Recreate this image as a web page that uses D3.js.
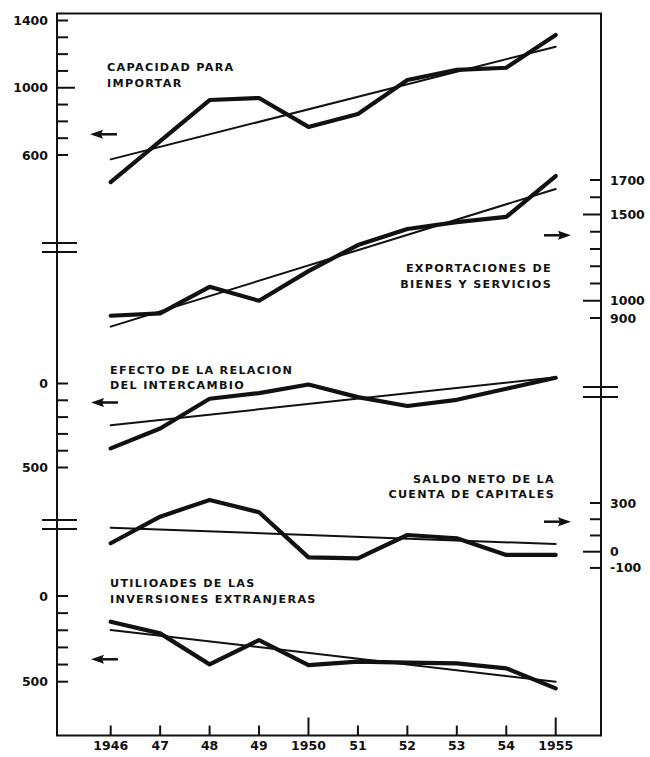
<!DOCTYPE html>
<html>
<head>
<meta charset="utf-8">
<script src="https://cdn.jsdelivr.net/npm/d3@7"></script>
<style>
  html, body { margin: 0; padding: 0; background: #fff; overflow: hidden; }
  svg { display: block; }
  text { font-family: "DejaVu Sans", sans-serif; font-weight: bold; fill: #111; }
</style>
</head>
<body>
<svg id="chart" width="650" height="757"></svg>
<script>
// ---------------- DATA ----------------
const years = [1946, 1947, 1948, 1949, 1950, 1951, 1952, 1953, 1954, 1955];
const yearLabels = ["1946", "47", "48", "49", "1950", "51", "52", "53", "54", "1955"];
const trendYears = [1946, 1955];

// Capacidad para importar (left, upper scale)
const capacidad      = [439, 683, 927, 939, 767, 844, 1046, 1106, 1119, 1314];
const capacidadTrend = [574, 1244];
// Exportaciones de bienes y servicios (right, upper scale)
const exportaciones      = [913, 927, 1081, 1000, 1172, 1323, 1416, 1456, 1486, 1723];
const exportacionesTrend = [850, 1648];
// Efecto de la relacion del intercambio (left, middle scale)
const efecto      = [-386, -268, -91, -57, -6, -81, -134, -97, -31, 34];
const efectoTrend = [-249, 37];
// Saldo neto de la cuenta de capitales (right, lower scale)
const saldo      = [52, 216, 319, 243, -35, -41, 103, 83, -20, -20];
const saldoTrend = [148, 47];
// Utilidades de las inversiones extranjeras (left, lower scale)
const utilidades      = [-150, -218, -399, -257, -403, -383, -389, -393, -422, -539];
const utilidadesTrend = [-198, -500];

// Tick values and labels
const capTicks   = [600, 700, 800, 900, 1000, 1100, 1200, 1300, 1400];
const capMajor   = [1000];
const capLabels  = [600, 1000, 1400];
const expTicks   = [900, 1000, 1100, 1200, 1300, 1400, 1500, 1600, 1700];
const expMajor   = [1000, 1500];
const expLabels  = [900, 1000, 1500, 1700];
const efeTicks   = [0, -100, -200, -300, -400, -500];
const efeMajor   = [];
const efeLabels  = [0, -500];
const salTicks   = [-100, 0, 100, 200, 300];
const salMajor   = [0];
const salLabels  = [-100, 0, 300];
const utiTicks   = [0, -100, -200, -300, -400, -500];
const utiMajor   = [];
const utiLabels  = [0, -500];
const yearMajor  = [1950, 1955];

const seriesLabels = {
  cap: ["CAPACIDAD PARA", "IMPORTAR"],
  exp: ["EXPORTACIONES DE", "BIENES Y SERVICIOS"],
  efe: ["EFECTO DE LA RELACION", "DEL INTERCAMBIO"],
  sal: ["SALDO NETO DE LA", "CUENTA DE CAPITALES"],
  uti: ["UTILIOADES DE LAS", "INVERSIONES EXTRANJERAS"]
};

// ---------------- LAYOUT ----------------
const INK = "#111";
const L = 57, R = 601, T = 13.5, B = 735.5;
const svg = d3.select("#chart");

const x = d3.scaleLinear().domain([1946, 1955]).range([110.7, 555.7]);
const yCap = d3.scaleLinear().domain([600, 1400]).range([155, 20.5]);
const yExp = d3.scaleLinear().domain([900, 1700]).range([318, 180]);
const yEfe = d3.scaleLinear().domain([0, -500]).range([383.5, 467.5]);
const ySal = d3.scaleLinear().domain([0, 300]).range([551.7, 503]);
const yUti = d3.scaleLinear().domain([0, -500]).range([596, 681.7]);

// Frame
const frame = svg.append("g").attr("stroke", INK).attr("stroke-width", 2).attr("fill", "none");
frame.append("line").attr("x1", L).attr("x2", L).attr("y1", T).attr("y2", B);
frame.append("line").attr("x1", R).attr("x2", R).attr("y1", T).attr("y2", B);
frame.append("line").attr("x1", L - 1).attr("x2", R + 1).attr("y1", T).attr("y2", T);
frame.append("line").attr("x1", L - 1).attr("x2", R + 1).attr("y1", B).attr("y2", B);

// Break marks
const breaks = [
  { x1: 42, x2: 77, y: 243 }, { x1: 42, x2: 77, y: 252 },
  { x1: 42, x2: 77, y: 520 }, { x1: 42, x2: 77, y: 529 },
  { x1: 583, x2: 618, y: 387 }, { x1: 583, x2: 618, y: 397 }
];
frame.selectAll("line.brk").data(breaks).join("line").attr("class", "brk")
  .attr("x1", d => d.x1).attr("x2", d => d.x2).attr("y1", d => d.y).attr("y2", d => d.y)
  .attr("stroke-width", 2);

// Vertical axis ticks & labels
function vAxis(scale, ticks, major, labels, side, fmt) {
  const g = svg.append("g");
  const x0 = side === "left" ? L : R;
  const dir = side === "left" ? 1 : -1;
  g.selectAll("line").data(ticks).join("line")
    .attr("x1", x0)
    .attr("x2", d => x0 + dir * (major.includes(d) ? 18 : 11))
    .attr("y1", d => scale(d)).attr("y2", d => scale(d))
    .attr("stroke", INK).attr("stroke-width", 2);
  g.selectAll("text").data(labels).join("text")
    .attr("x", side === "left" ? 48 : 610)
    .attr("y", d => scale(d))
    .attr("dy", "0.36em")
    .attr("text-anchor", side === "left" ? "end" : "start")
    .attr("font-size", 12.5)
    .text(fmt);
}
vAxis(yCap, capTicks, capMajor, capLabels, "left", d => String(d));
vAxis(yExp, expTicks, expMajor, expLabels, "right", d => String(d));
vAxis(yEfe, efeTicks, efeMajor, efeLabels, "left", d => String(Math.abs(d)));
vAxis(ySal, salTicks, salMajor, salLabels, "right", d => (d < 0 ? "-" : "") + Math.abs(d));
vAxis(yUti, utiTicks, utiMajor, utiLabels, "left", d => String(Math.abs(d)));

// Year axis
const xg = svg.append("g");
xg.selectAll("line").data(years).join("line")
  .attr("x1", d => x(d)).attr("x2", d => x(d))
  .attr("y1", B).attr("y2", d => B - (yearMajor.includes(d) ? 18 : 10))
  .attr("stroke", INK).attr("stroke-width", 2);
xg.selectAll("text").data(years).join("text")
  .attr("x", d => x(d)).attr("y", 750)
  .attr("text-anchor", "middle").attr("font-size", 12.5)
  .text((d, i) => yearLabels[i]);

// Series
const series = [
  { vals: capacidad,     trend: capacidadTrend,     y: yCap },
  { vals: exportaciones, trend: exportacionesTrend, y: yExp },
  { vals: efecto,        trend: efectoTrend,        y: yEfe },
  { vals: saldo,         trend: saldoTrend,         y: ySal },
  { vals: utilidades,    trend: utilidadesTrend,    y: yUti }
];
const lg = svg.append("g").attr("fill", "none").attr("stroke", INK)
  .attr("stroke-linejoin", "round").attr("stroke-linecap", "round");
series.forEach(s => {
  const lineGen = d3.line().x((d, i) => x(years[i])).y(d => s.y(d));
  const trendGen = d3.line().x((d, i) => x(trendYears[i])).y(d => s.y(d));
  lg.append("path").attr("d", trendGen(s.trend)).attr("stroke-width", 2);
  lg.append("path").attr("d", lineGen(s.vals)).attr("stroke-width", 4.2);
});

// Series labels
const labelSpec = [
  { key: "cap", x: 107, y: 71, anchor: "start" },
  { key: "exp", x: 552, y: 272, anchor: "end" },
  { key: "efe", x: 110, y: 373.5, anchor: "start" },
  { key: "sal", x: 555, y: 482.5, anchor: "end" },
  { key: "uti", x: 110, y: 587, anchor: "start" }
];
labelSpec.forEach(l => {
  const t = svg.append("text").attr("font-size", 11.2).attr("letter-spacing", 1.3)
    .attr("text-anchor", l.anchor);
  seriesLabels[l.key].forEach((line, i) => {
    t.append("tspan").attr("x", l.x).attr("y", l.y + i * 15.5).text(line);
  });
});

// Axis arrows
const arrows = [
  { x: 90, y: 134.3, dir: -1 },
  { x: 571, y: 235.3, dir: 1 },
  { x: 91, y: 402.5, dir: -1 },
  { x: 571, y: 521.7, dir: 1 },
  { x: 91, y: 659.3, dir: -1 }
];
const ag = svg.append("g");
arrows.forEach(a => {
  const tip = a.x, tail = a.x - a.dir * 27, base = a.x - a.dir * 13;
  ag.append("line").attr("x1", tail).attr("x2", base + a.dir * 2).attr("y1", a.y).attr("y2", a.y)
    .attr("stroke", INK).attr("stroke-width", 2.5);
  ag.append("path")
    .attr("d", `M${tip},${a.y} L${base},${a.y - 4.5} L${base + a.dir * 2},${a.y} L${base},${a.y + 4.5} Z`)
    .attr("fill", INK);
});
</script>
</body>
</html>
